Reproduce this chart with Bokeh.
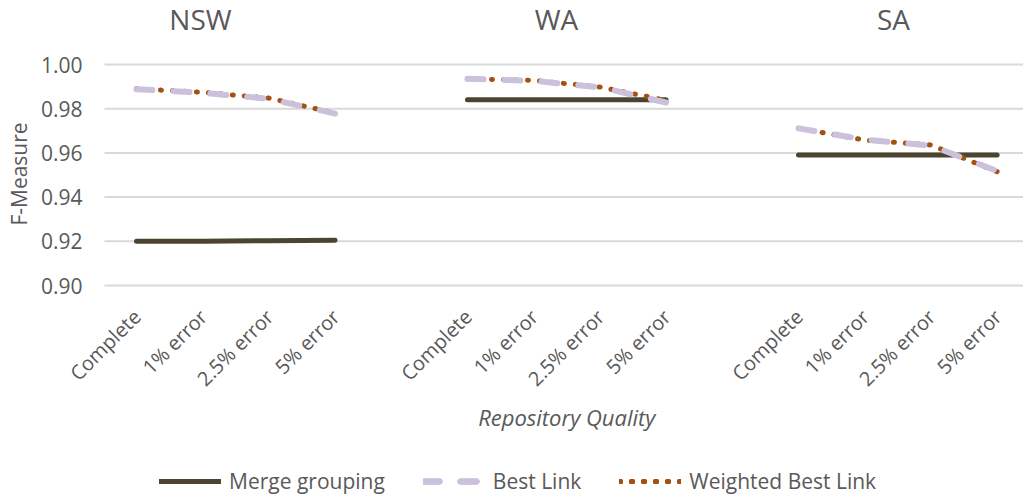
import math
from bokeh.plotting import figure
from bokeh.models import Label, Legend, LegendItem, Range1d
from bokeh.core.properties import value
from bokeh.embed import file_html
from bokeh.resources import INLINE

states = ["NSW", "WA", "SA"]
qualities = ["Complete", "1% error", "2.5% error", "5% error"]
series_names = ["Merge grouping", "Best Link", "Weighted Best Link"]
x_title = "Repository Quality"
y_title = "F-Measure"

nsw_merge = [0.9200, 0.9200, 0.9203, 0.9205]
nsw_best = [0.9888, 0.9872, 0.9845, 0.9778]
nsw_weighted = [0.9890, 0.9874, 0.9848, 0.9780]

wa_merge = [0.9841, 0.9841, 0.9841, 0.9840]
wa_best = [0.9935, 0.9926, 0.9897, 0.9828]
wa_weighted = [0.9935, 0.9928, 0.9898, 0.9838]

sa_merge = [0.9591, 0.9591, 0.9591, 0.9591]
sa_best = [0.9711, 0.9660, 0.9633, 0.9518]
sa_weighted = [0.9711, 0.9658, 0.9636, 0.9515]

y_ticks = [0.90, 0.92, 0.94, 0.96, 0.98, 1.00]
y_tick_labels = ["0.90", "0.92", "0.94", "0.96", "0.98", "1.00"]

merge_by_state = [nsw_merge, wa_merge, sa_merge]
best_by_state = [nsw_best, wa_best, sa_best]
weighted_by_state = [nsw_weighted, wa_weighted, sa_weighted]

SLOTS = len(qualities) + 1  # one empty slot between states

TEXT = "#595959"
FONT = "Open Sans"
W, H = 1023, 495
PLOT_L = 104                      # left edge of the gridded plot area
UNIT = 66.2                       # pixels per category slot
FIRST_X = 136                     # canvas column of the first category
GRID_T, GRID_B = 64, 285          # canvas rows of the 1.00 and 0.90 gridlines
y_lo, y_hi = y_ticks[0], y_ticks[-1]
k = (y_hi - y_lo) / (GRID_B - GRID_T)   # data units per pixel (y)
y_top = y_hi + GRID_T * k
y_bot = y_lo - (H - GRID_B) * k
x_start = -FIRST_X / UNIT
x_end = x_start + W / UNIT


def xd(px):
    return x_start + px / UNIT


def yd(py):
    return y_top - py * k


p = figure(width=W, height=H, output_backend="svg", toolbar_location=None,
           x_range=Range1d(x_start, x_end), y_range=Range1d(y_bot, y_top),
           min_border_left=0, min_border_right=0, min_border_top=0, min_border_bottom=0)
p.outline_line_color = None
p.background_fill_color = "white"
p.border_fill_color = "white"
p.xaxis.visible = False
p.yaxis.visible = False
p.xgrid.grid_line_color = None
p.ygrid.grid_line_color = None

# horizontal gridlines over the plot area
p.multi_line(xs=[[xd(PLOT_L), x_end] for _ in y_ticks], ys=[[t, t] for t in y_ticks],
             line_color="#d9d9d9", line_width=2)

# y tick labels
p.text(x=[xd(82)] * len(y_ticks), y=y_ticks, text=y_tick_labels, text_align="right",
       text_baseline="middle", text_font=value(FONT), text_font_size="21px", text_color=TEXT)

# y-axis title
p.text(x=[xd(18)], y=[yd(173.5)], text=[y_title], angle=math.pi / 2, text_align="center",
       text_baseline="middle", text_font=value(FONT), text_font_size="21px", text_color=TEXT)

xs_all = []
lab_x, lab_t = [], []
for si, st in enumerate(states):
    xs = [si * SLOTS + qi for qi in range(len(qualities))]
    xs_all += xs
    lab_x += xs
    lab_t += qualities

r_merge, r_best, r_w = [], [], []
for si, st in enumerate(states):
    xs = [si * SLOTS + qi for qi in range(len(qualities))]
    r_merge.append(p.line(xs, merge_by_state[si], line_color="#4b4431", line_width=5, line_cap="round"))
for si, st in enumerate(states):
    xs = [si * SLOTS + qi for qi in range(len(qualities))]
    r_w.append(p.line(xs, weighted_by_state[si], line_color="#a54f10", line_width=5,
                      line_dash="1 11", line_cap="round"))
for si, st in enumerate(states):
    xs = [si * SLOTS + qi for qi in range(len(qualities))]
    r_best.append(p.line(xs, best_by_state[si], line_color="#ccc1dc", line_width=6,
                         line_dash="16 21", line_cap="round"))

# category labels (rotated 45 degrees, ending at their category)
p.text(x=lab_x, y=[y_lo - 18 * k] * len(lab_x), text=lab_t, angle=math.pi / 4,
       x_offset=-9, text_align="right", text_baseline="top",
       text_font=value(FONT), text_font_size="20px", text_color=TEXT)

# x-axis title
p.text(x=[sum(xs_all) / len(xs_all)], y=[yd(416)], text=[x_title],
       text_align="center", text_baseline="middle", text_font=value(FONT),
       text_font_style="italic", text_font_size="22px", text_color=TEXT)

# state titles
title_cx = [200, 556, 893]
title_cy = 18
for st, tx in zip(states, title_cx):
    p.add_layout(Label(x=xd(tx), y=yd(title_cy), text=st, text_font=FONT,
                       text_font_size="28px", text_color=TEXT,
                       text_align="center", text_baseline="middle"))

legend = Legend(items=[
    LegendItem(label=series_names[0], renderers=r_merge),
    LegendItem(label=series_names[1], renderers=r_best),
    LegendItem(label=series_names[2], renderers=r_w),
], orientation="horizontal", location=(159, 0), margin=0, padding=6,
    label_text_font=FONT, label_text_font_size="21px", label_text_color=TEXT,
    glyph_width=62, glyph_height=20, spacing=38, label_standoff=8,
    border_line_color=None, background_fill_alpha=0)
p.add_layout(legend, "center")

open("out.html", "w").write(file_html(p, INLINE))
